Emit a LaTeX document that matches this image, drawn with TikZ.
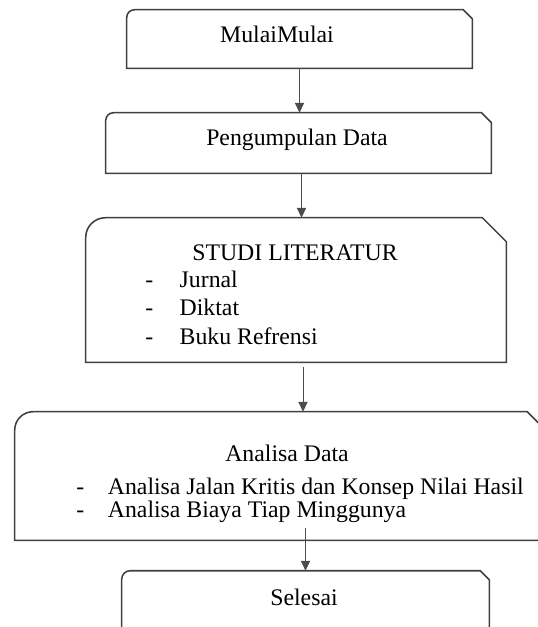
\documentclass[tikz,border=0pt]{standalone}
\usepackage{fontspec}
\setmainfont{Liberation Serif}
\usetikzlibrary{arrows.meta,calc,positioning,fit}

% outline: rounded top left, cut top right, square bottom
\newcommand{\flowbox}[3]{%
	\draw[boxline] (#1.south west) -- ([yshift=-#2]#1.north west)
		arc[start angle=180, end angle=90, radius=#2]
		-- ([xshift=-#3]#1.north east) -- ([yshift=-#3]#1.north east)
		-- (#1.south east) -- cycle;}

\begin{document}
\begin{tikzpicture}[x=0.025cm, y=-0.025cm, arrow/.style = {draw=black!70, line width=0.7pt, -{Triangle[length=7pt,width=6.5pt]}}]
	\tikzset{boxline/.style={draw=black!75, line width=1.1pt},
		area/.style={inner sep=0pt},
		txt/.style={inner sep=0pt, font=\fontsize{16.9}{20}\selectfont},
		item/.style={txt, anchor=base west}}
	\useasboundingbox (0,0) rectangle (538,627);
	\clip (0,0) rectangle (538,627);

	\node[fit={(127,10) (472,68)}, area] (mulai) {};
	\node[fit={(106,113) (491,173)}, area] (data) {};
	\node[fit={(86,218) (506,362)}, area] (studi) {};
	\node[fit={(15,412) (548,540)}, area] (analisa) {};
	\node[fit={(122,571) (489,660)}, area] (selesai) {};

	\flowbox{mulai}{5.5pt}{6.5pt}
	\flowbox{data}{5.5pt}{7pt}
	\flowbox{studi}{14pt}{17pt}
	\flowbox{analisa}{13pt}{15pt}
	\flowbox{selesai}{6pt}{6.5pt}

	\node[txt, anchor=base] (mulaitxt) at (277,42) {MulaiMulai};
	\node[txt, anchor=base] (datatxt) at (297,145) {Pengumpulan Data};

	\node[txt, anchor=base] (studitxt) at (295,260) {STUDI LITERATUR};
	\node[item] (jurnal) at (145,287) {\makebox[24.5pt][l]{-}Jurnal};
	\node[item] (diktat) at (145,315) {\makebox[24.5pt][l]{-}Diktat};
	\node[item] (buku) at (145,344) {\makebox[24.5pt][l]{-}Buku Refrensi};

	\node[txt, anchor=base] (analisatxt) at (287,461) {Analisa Data};
	\node[item] (kritis) at (76,494) {\makebox[22.5pt][l]{-}Analisa Jalan Kritis dan Konsep Nilai Hasil};
	\node[item] (biaya) at (76,517) {\makebox[22.5pt][l]{-}Analisa Biaya Tiap Minggunya};

	\node[txt, anchor=base] (selesaitxt) at (304,605) {Selesai};

	\draw[arrow] (mulai.south) -- (mulai.south |- data.north);
	\draw[arrow] ($(data.south)+(3,0)$) -- ($(data.south |- studi.north)+(3,0)$);
	\draw[arrow] ($(studi.south)+(7,5)$) -- ($(studi.south |- analisa.north)+(7,0)$);
	\draw[arrow] ($(selesai.north |- analisa.south)+(0,-12)$) -- (selesai.north);
\end{tikzpicture}
\end{document}
